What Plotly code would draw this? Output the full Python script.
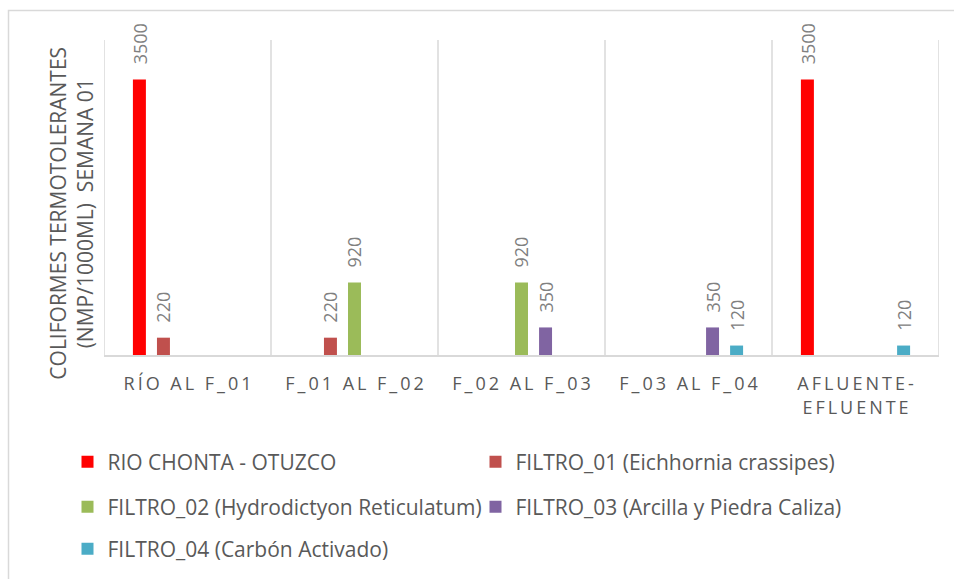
import plotly.graph_objects as go

# --- data -------------------------------------------------------------
categories = ["RÍO AL F_01", "F_01 AL F_02", "F_02 AL F_03", "F_03 AL F_04", "AFLUENTE-EFLUENTE"]

series_names = [
    "RIO CHONTA - OTUZCO",
    "FILTRO_01 (Eichhornia crassipes)",
    "FILTRO_02 (Hydrodictyon Reticulatum)",
    "FILTRO_03 (Arcilla y Piedra Caliza)",
    "FILTRO_04 (Carbón Activado)",
]

rio_chonta = [3500, None, None, None, 3500]
filtro_01 = [220, 220, None, None, None]
filtro_02 = [None, 920, 920, None, None]
filtro_03 = [None, None, 350, 350, None]
filtro_04 = [None, None, None, 120, 120]

series_values = [rio_chonta, filtro_01, filtro_02, filtro_03, filtro_04]
series_colors = ["#FF0000", "#C0504D", "#9BBB59", "#8064A2", "#4BACC6"]

y_title = "COLIFORMES TERMOTOLERANTES<br>(NMP/1000ML)  SEMANA 01"

# --- styling ------------------------------------------------------------
FONT = "Open Sans, Carlito, Calibri, sans-serif"
GRID = "#D9D9D9"
TEXT_DARK = "#595959"
TEXT_LABEL = "#808080"
BARGAP = 0.28
BARGROUPGAP = 0.46
W, H = 954, 579


def spaced(label):
    """Wide letter spacing for the category labels."""
    parts = label.split("-") if label.count("-") == 1 and " " not in label else [label]
    out = []
    for k, part in enumerate(parts):
        words = part.split(" ")
        txt = "\u2009\u00a0\u2009".join("\u2009".join(w) for w in words)
        if len(parts) > 1 and k == 0:
            txt += "\u2009-"
        out.append(txt)
    return "<br>".join(out)


fig = go.Figure()

legend_ids = ["legend", "legend", "legend2", "legend2", "legend3"]
for name, vals, color, lg in zip(series_names, series_values, series_colors, legend_ids):
    fig.add_trace(go.Bar(
        name=name,
        x=list(range(len(categories))),
        y=vals,
        marker=dict(color=color, line=dict(width=0)),
        legend=lg,
        hoverinfo="skip",
    ))

# value labels above each bar, placed at the bar's slot in the group
n = len(series_values)
slot = (1 - BARGAP) / n
annotations = []
for j, vals in enumerate(series_values):
    for i, v in enumerate(vals):
        if v is None:
            continue
        annotations.append(dict(
            x=i + (j - (n - 1) / 2) * slot, y=v, xref="x", yref="y",
            text=str(v), textangle=-90, showarrow=False,
            xanchor="center", yanchor="bottom", yshift=13,
            font=dict(family=FONT, size=18, color=TEXT_LABEL),
        ))

# rotated axis title
annotations.append(dict(
    x=-0.039, y=0.45, xref="paper", yref="paper",
    text=y_title, textangle=-90, showarrow=False,
    xanchor="center", yanchor="middle",
    font=dict(family=FONT, size=21, color=TEXT_DARK),
))

legend_common = dict(
    orientation="h", xanchor="left", yanchor="middle",
    xref="container", yref="container",
    font=dict(family=FONT, size=21, color=TEXT_DARK),
    bgcolor="rgba(0,0,0,0)", entrywidth=363, entrywidthmode="pixels",
    itemclick=False, itemdoubleclick=False,
)
LEG_X = 67.5 / W

fig.update_layout(
    width=W, height=H,
    margin=dict(l=104, r=15, t=40, b=224),
    paper_bgcolor="white", plot_bgcolor="white",
    barmode="group", bargap=BARGAP, bargroupgap=BARGROUPGAP,
    font=dict(family=FONT, color=TEXT_DARK),
    showlegend=True,
    legend=dict(x=LEG_X, y=1 - 462 / H, **legend_common),
    legend2=dict(x=LEG_X, y=1 - 507 / H, **legend_common),
    legend3=dict(x=LEG_X, y=1 - 549 / H, **legend_common),
    annotations=annotations,
    shapes=[dict(
        type="rect", xref="paper", yref="paper",
        x0=(8.5 - 104) / 835, x1=(956 - 104) / 835,
        y0=-1.0, y1=(355 - 10.5) / 315,
        line=dict(color=GRID, width=1.5), fillcolor="rgba(0,0,0,0)", layer="below",
    )],
)

fig.update_xaxes(
    type="linear", range=[-0.5, len(categories) - 0.5],
    tickmode="array", tickvals=list(range(len(categories))),
    ticktext=[spaced(c) for c in categories],
    tickfont=dict(family=FONT, size=18, color=TEXT_DARK),
    ticks="", ticklabelstandoff=12,
    showgrid=False, zeroline=False,
    showline=True, linecolor=GRID, linewidth=1.5,
)
fig.update_yaxes(
    range=[0, 4000], showticklabels=False, ticks="",
    showgrid=False, zeroline=False, showline=False,
)

# category separators
for b in range(len(categories) + 1):
    fig.add_shape(type="line", xref="x", yref="paper",
                  x0=b - 0.5, x1=b - 0.5, y0=0, y1=1,
                  line=dict(color=GRID, width=1.5), layer="below")

fig.write_html("out.html")
